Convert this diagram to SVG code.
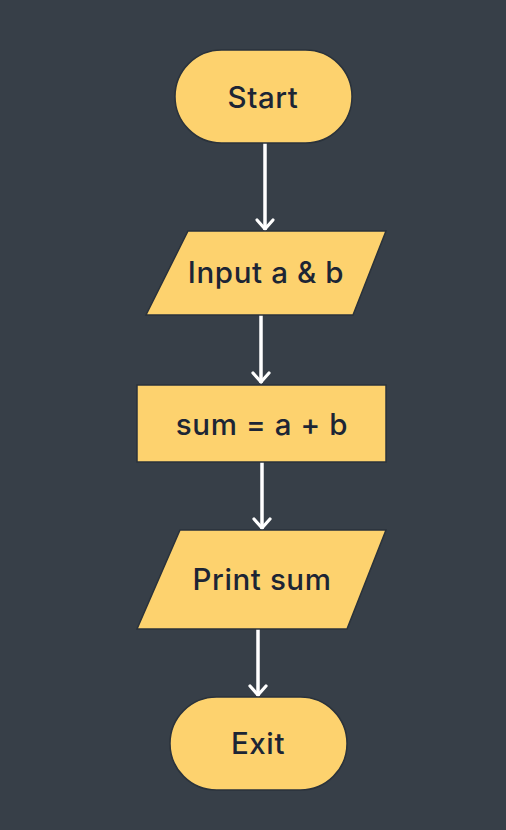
<svg xmlns="http://www.w3.org/2000/svg" width="506" height="830" viewBox="0 0 506 830">
<defs>
<style>
.shape{fill:#fdd26e;stroke:#2a323b;stroke-width:1.5}
.lbl{font-family:Inter,"Noto Sans",sans-serif;font-size:29.5px;font-weight:500;letter-spacing:0.6px;fill:#1c2535;text-anchor:middle;dominant-baseline:central}
.conn{stroke:#ffffff;stroke-width:3.5;fill:none}
.head{stroke:#ffffff;stroke-width:3.2;fill:none;stroke-linecap:round;stroke-linejoin:round}
</style>
</defs>
<rect width="506" height="830" fill="#373f48"/>
<g id="connectors">
<path class="conn" d="M265 143 V230"/>
<path class="head" d="M257 220 L265 229 L273 220"/>
<path class="conn" d="M261 315 V383"/>
<path class="head" d="M253 373 L261 382 L269 373"/>
<path class="conn" d="M262 462 V529"/>
<path class="head" d="M254 519 L262 528 L270 519"/>
<path class="conn" d="M258 629 V696"/>
<path class="head" d="M250 686 L258 695 L266 686"/>
</g>
<g id="start">
<rect class="shape" x="175" y="50" width="177" height="93" rx="46.5"/>
<text class="lbl" x="263" y="97">Start</text>
</g>
<g id="input">
<polygon class="shape" points="188,231 386,231 353,315 146,315"/>
<text class="lbl" x="266" y="272">Input a &amp; b</text>
</g>
<g id="process">
<rect class="shape" x="137" y="385" width="249" height="77"/>
<text class="lbl" x="262" y="424">sum = a + b</text>
</g>
<g id="print">
<polygon class="shape" points="180,530 386,530 347,629 137,629"/>
<text class="lbl" x="262" y="579">Print sum</text>
</g>
<g id="exit">
<rect class="shape" x="170" y="697" width="177" height="93" rx="46.5"/>
<text class="lbl" x="258" y="743">Exit</text>
</g>
</svg>
